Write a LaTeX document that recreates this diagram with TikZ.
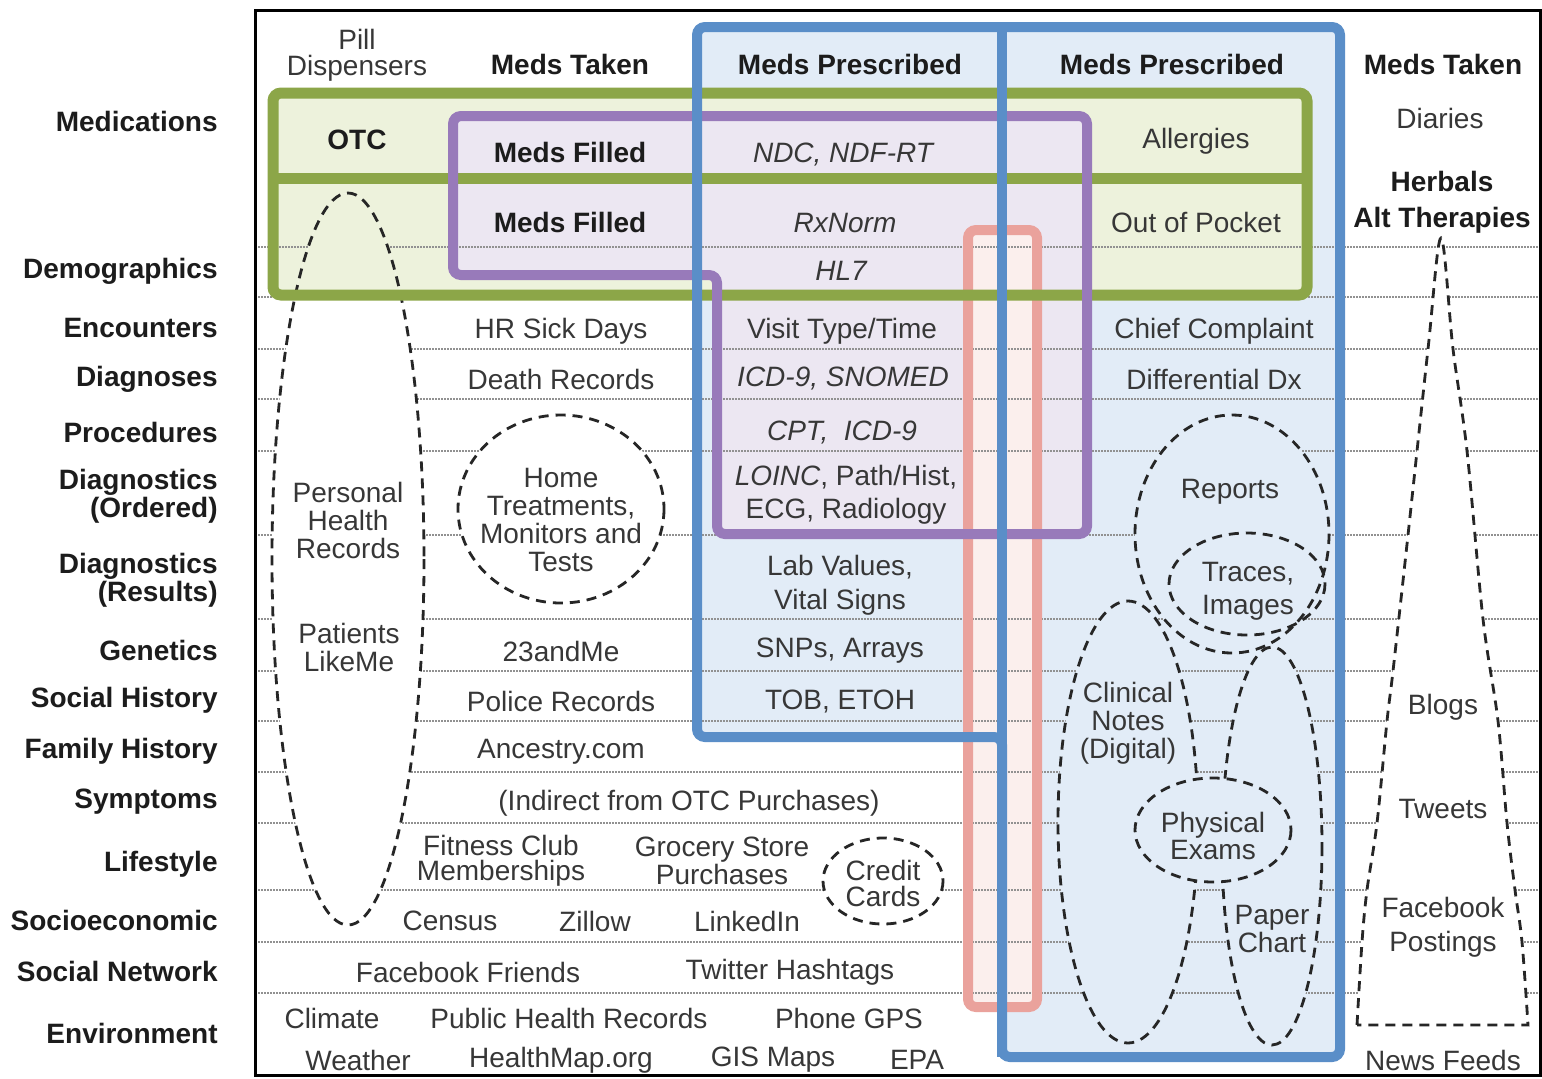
\documentclass[tikz,border=0pt]{standalone}
\usepackage{fontspec}
\setmainfont{Liberation Sans}
\definecolor{bluel}{RGB}{90,142,200}
\definecolor{bluef}{RGB}{226,236,247}
\definecolor{greenl}{RGB}{140,166,72}
\definecolor{greenf}{RGB}{237,242,220}
\definecolor{purl}{RGB}{152,122,186}
\definecolor{purf}{RGB}{236,231,242}
\definecolor{pinkl}{RGB}{234,162,156}
\definecolor{pinkf}{RGB}{251,239,237}
\definecolor{txt}{RGB}{55,55,55}
\definecolor{txtb}{RGB}{28,28,28}
\definecolor{gridc}{RGB}{145,145,145}
\begin{document}
\begin{tikzpicture}[x=0.5pt,y=-0.5pt,
  lbl/.style={font=\fontsize{14}{13}\selectfont, text=txt, inner sep=0pt, align=center},
  lsk/.style={font=\fontsize{14}{#1}\selectfont},
  bl/.style={lbl, font=\fontsize{14}{13}\selectfont\bfseries, text=txtb},
  it/.style={lbl, font=\fontsize{14}{13}\selectfont\itshape},
  rowlbl/.style={bl, anchor=east, align=right},
  gridline/.style={gridc, line width=0.8pt, dash pattern=on 0.9pt off 0.6pt},
  dsh/.style={draw=black!85, line width=1.4pt, dash pattern=on 5pt off 3.5pt},
  blueframe/.style={draw=bluel, line width=5pt, rounded corners=4pt},
  greenframe/.style={draw=greenl, line width=5.5pt, rounded corners=4pt},
  purframe/.style={draw=purl, line width=5pt, rounded corners=4pt},
  pinkframe/.style={draw=pinkl, line width=5pt, rounded corners=4pt}]
\useasboundingbox (0,0) rectangle (1542,1078);
\fill[white] (0,0) rectangle (1542,1078);

% region fills
\fill[bluef] (697,27) rectangle (1002,737);
\fill[bluef] (1002,27) rectangle (1340,1057);
\fill[greenf] (273,93) rectangle (1307,295);
\fill[purf] (453,116) -- (1087,116) -- (1087,534) -- (717,534) -- (717,275) -- (453,275) -- cycle;
\fill[pinkf] (968,230) rectangle (1037,1007);

% dotted row rules
\foreach \yy in {247,297,349,399,451,535,619,671,721,772,823,890,942,993}
  \draw[gridline] (255,\yy) -- (1540,\yy);

% fills of the dashed groupings
\fill[white] (348,559) ellipse [x radius=76, y radius=366];
\begin{scope}
  \clip (273,93) rectangle (1307,295);
  \fill[greenf] (348,559) ellipse [x radius=76, y radius=366];
\end{scope}
\fill[white] (561,509) ellipse [x radius=103, y radius=94];
\fill[white] (883,881) ellipse [x radius=60, y radius=43];
\fill[bluef] (1232,534) ellipse [x radius=97, y radius=119];
\fill[bluef] (1247,584) ellipse [x radius=78, y radius=51];
\fill[bluef] (1128,822) ellipse [x radius=70, y radius=221];
\fill[bluef] (1272,846) ellipse [x radius=50, y radius=199];
\path[fill=white] plot[smooth, tension=0.55] coordinates {(1357,1025) (1362,942) (1367,890) (1377,823) (1387,721) (1393,671) (1408,535) (1428,349) (1441,238) (1453,349) (1467,451) (1483,619) (1498,721) (1507,823) (1515,890) (1522,942) (1528,1025)} -- cycle;

% dashed outlines
\draw[dsh] (348,559) ellipse [x radius=76, y radius=366];
\draw[dsh] (561,509) ellipse [x radius=103, y radius=94];
\draw[dsh] (883,881) ellipse [x radius=60, y radius=43];
\draw[dsh] (1232,534) ellipse [x radius=97, y radius=119];
\draw[dsh] (1247,584) ellipse [x radius=78, y radius=51];
\draw[dsh] (1128,822) ellipse [x radius=70, y radius=221];
\draw[dsh] (1272,846) ellipse [x radius=50, y radius=199];
\draw[dsh] plot[smooth, tension=0.55] coordinates {(1357,1025) (1362,942) (1367,890) (1377,823) (1387,721) (1393,671) (1408,535) (1428,349) (1441,238) (1453,349) (1467,451) (1483,619) (1498,721) (1507,823) (1515,890) (1522,942) (1528,1025)} -- cycle;
% physical exams sits on top of the notes and the chart
\fill[bluef] (1213,830) ellipse [x radius=78, y radius=52];
\draw[dsh] (1213,830) ellipse [x radius=78, y radius=52];

% coloured frames
\draw[pinkframe] (968,230) rectangle (1037,1007);
\draw[greenframe] (273,93) rectangle (1307,295);
\draw[draw=greenl, line width=5.5pt] (273,178) -- (1307,178);
\draw[purframe] (453,116) -- (1087,116) -- (1087,534) -- (717,534) -- (717,275) -- (453,275) -- cycle;
\draw[blueframe] (697,27) -- (1340,27) -- (1340,1057) -- (1002,1057) -- (1002,737) -- (697,737) -- cycle;
\draw[draw=bluel, line width=5pt] (1002,27) -- (1002,1057);

% outer frame
\draw[black, line width=1.5pt] (255,10) rectangle (1540,1075);

% row labels
\node[rowlbl] (r-med) at (218,121) {Medications};
\node[rowlbl] (r-demo) at (218,271) {Demographics};
\node[rowlbl] (r-enc) at (218,328) {Encounters};
\node[rowlbl] (r-diag) at (218,379) {Diagnoses};
\node[rowlbl] (r-proc) at (218,432) {Procedures};
\node[rowlbl] (r-dxo) at (218,496) {Diagnostics\\(Ordered)};
\node[rowlbl] (r-dxr) at (218,580) {Diagnostics\\(Results)};
\node[rowlbl] (r-gen) at (218,650) {Genetics};
\node[rowlbl] (r-shx) at (218,700) {Social History};
\node[rowlbl] (r-fhx) at (218,751) {Family History};
\node[rowlbl] (r-sym) at (218,802) {Symptoms};
\node[rowlbl] (r-life) at (218,864) {Lifestyle};
\node[rowlbl] (r-socio) at (218,920) {Socioeconomic};
\node[rowlbl] (r-net) at (218,971) {Social Network};
\node[rowlbl] (r-env) at (218,1033) {Environment};

% column heads
\node[lbl] (pill) at (357,55) {Pill\\Dispensers};
\node[bl] (taken1) at (570,64) {Meds Taken};
\node[bl] (presc1) at (850,64) {Meds Prescribed};
\node[bl] (presc2) at (1172,64) {Meds Prescribed};
\node[bl] (taken2) at (1443,64) {Meds Taken};

% medications / demographics
\node[bl] (otc) at (357,140) {OTC};
\node[bl] (filled1) at (570,152) {Meds Filled};
\node[it] (ndc) at (843,155) {NDC, NDF-RT};
\node[lbl] (allerg) at (1196,141) {Allergies};
\node[lbl] (diaries) at (1440,118) {Diaries};
\node[bl] (filled2) at (570,222) {Meds Filled};
\node[it] (rxnorm) at (845,223) {RxNorm};
\node[lbl] (pocket) at (1196,222) {Out of Pocket};
\node[bl] (herbals) at (1442,181) {Herbals};
\node[bl] (alt) at (1442,220) {Alt Therapies};
\node[it] (hl7) at (841,271) {HL7};

% encounters .. procedures
\node[lbl] (sick) at (561,331) {HR Sick Days};
\node[lbl] (visit) at (842,331) {Visit Type/Time};
\node[lbl] (chief) at (1214,331) {Chief Complaint};
\node[lbl] (death) at (561,379) {Death Records};
\node[it] (icd) at (843,379) {ICD-9, SNOMED};
\node[lbl] (ddx) at (1214,379) {Differential Dx};
\node[it] (cpt) at (842,433) {CPT,\ \ ICD-9};

% diagnostics
\node[lbl, lsk=14] (phr) at (348,520) {Personal\\Health\\Records};
\node[lbl, lsk=14] (home) at (561,520) {Home\\Treatments,\\Monitors and\\Tests};
\node[lbl, lsk=16.5] (loinc) at (846,495) {{\itshape LOINC}, Path/Hist,\\ECG, Radiology};
\node[lbl] (reports) at (1230,492) {Reports};
\node[lbl, lsk=17] (lab) at (840,585) {Lab Values,\\Vital Signs};
\node[lbl, lsk=16.5] (traces) at (1248,591) {Traces,\\Images};

% genetics .. symptoms
\node[lbl, lsk=14] (plm) at (349,647) {Patients\\LikeMe};
\node[lbl] (23me) at (561,651) {23andMe};
\node[lbl] (snp) at (840,651) {SNPs, Arrays};
\node[lbl] (police) at (561,701) {Police Records};
\node[lbl] (tob) at (840,701) {TOB, ETOH};
\node[lbl, lsk=14] (clin) at (1128,723) {Clinical\\Notes\\(Digital)};
\node[lbl] (blogs) at (1443,707) {Blogs};
\node[lbl] (ancestry) at (561,752) {Ancestry.com};
\node[lbl] (indirect) at (689,803) {(Indirect from OTC Purchases)};
\node[lbl] (tweets) at (1443,809) {Tweets};

% lifestyle .. environment
\node[lbl, lsk=12.5] (fitness) at (501,861) {Fitness Club\\Memberships};
\node[lbl, lsk=12.5] (grocery) at (722,861) {Grocery Store\\Purchases};
\node[lbl] (credit) at (883,883) {Credit\\Cards};
\node[lbl, lsk=12.5] (exam) at (1213,836) {Physical\\Exams};
\node[lbl] (census) at (450,921) {Census};
\node[lbl] (zillow) at (595,921) {Zillow};
\node[lbl] (linkedin) at (747,921) {LinkedIn};
\node[lbl, lsk=12.5] (paper) at (1272,929) {Paper\\Chart};
\node[lbl, lsk=17] (fbpost) at (1443,927) {Facebook\\Postings};
\node[lbl] (fbfriends) at (468,972) {Facebook Friends};
\node[lbl] (hashtags) at (790,972) {Twitter Hashtags};
\node[lbl] (climate) at (332,1018) {Climate};
\node[lbl] (phrec) at (569,1018) {Public Health Records};
\node[lbl] (gps) at (849,1018) {Phone GPS};
\node[lbl] (weather) at (358,1060) {Weather};
\node[lbl] (hmap) at (561,1060) {HealthMap.org};
\node[lbl] (gis) at (773,1060) {GIS Maps};
\node[lbl] (epa) at (917,1060) {EPA};
\node[lbl] (news) at (1443,1060) {News Feeds};
\end{tikzpicture}
\end{document}
